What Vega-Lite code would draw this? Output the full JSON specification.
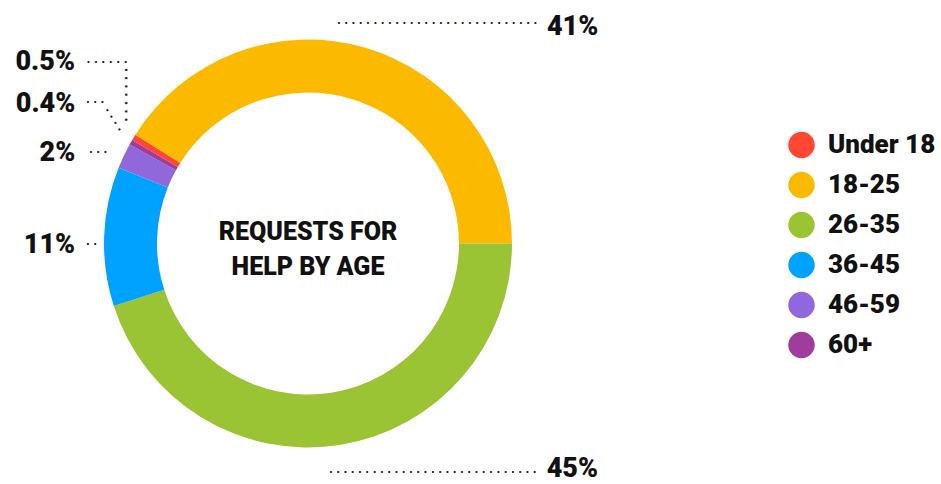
{
  "$schema": "https://vega.github.io/schema/vega-lite/v6.json",
  "autosize": {"type": "none"},
  "width": 616,
  "height": 481,
  "padding": {"left": 0, "top": 3, "right": 325, "bottom": 0},
  "background": "white",
  "config": {"view": {"stroke": null}},
  "data": {
    "values": [
      {"age": "Under 18", "value": 0.5, "label": "0.5%"},
      {"age": "18-25", "value": 41, "label": "41%"},
      {"age": "26-35", "value": 45, "label": "45%"},
      {"age": "36-45", "value": 11, "label": "11%"},
      {"age": "46-59", "value": 2, "label": "2%"},
      {"age": "60+", "value": 0.4, "label": "0.4%"}
    ]
  },
  "layer": [
    {
      "encoding": {
        "theta": {"field": "value", "type": "quantitative", "stack": true, "scale": {"range": [-1.00789, 5.2753]}},
        "order": {"field": "age", "type": "nominal", "sort": "ascending"}
      },
      "layer": [
        {
          "mark": {"type": "arc", "outerRadius": 204, "innerRadius": 151},
          "encoding": {
            "color": {
              "field": "age",
              "type": "nominal",
              "scale": {
                "domain": ["Under 18", "18-25", "26-35", "36-45", "46-59", "60+"],
                "range": ["#FF4733", "#FBB900", "#9BC434", "#00A2FF", "#9068DC", "#A03C9B"]
              },
              "legend": {
                "title": null,
                "orient": "none",
                "legendX": 788,
                "legendY": 128.5,
                "padding": 0,
                "symbolType": "circle",
                "symbolSize": 700,
                "symbolStrokeWidth": 0,
                "symbolOpacity": 1,
                "labelFont": "Roboto",
                "labelFontWeight": 900,
                "labelFontSize": 26,
                "labelColor": "#111",
                "labelOffset": 13,
                "rowPadding": 13
              }
            }
          }
        },
        {
          "mark": {"type": "text", "radius": 230, "font": "Roboto", "fontWeight": 900, "fontSize": 27, "color": "#111", "align": "left", "baseline": "alphabetic", "dx": 175, "dy": 12},
          "encoding": {"text": {"condition": {"test": "datum.age === '18-25'", "field": "label"}, "value": ""}}
        },
        {
          "mark": {"type": "text", "radius": 230, "font": "Roboto", "fontWeight": 900, "fontSize": 27, "color": "#111", "align": "left", "baseline": "alphabetic", "dx": 203, "dy": 6},
          "encoding": {"text": {"condition": {"test": "datum.age === '26-35'", "field": "label"}, "value": ""}}
        },
        {
          "mark": {"type": "text", "radius": 230, "font": "Roboto", "fontWeight": 900, "fontSize": 27, "color": "#111", "align": "right", "baseline": "alphabetic", "dx": -3, "dy": 17.4},
          "encoding": {"text": {"condition": {"test": "datum.age === '36-45'", "field": "label"}, "value": ""}}
        },
        {
          "mark": {"type": "text", "radius": 230, "font": "Roboto", "fontWeight": 900, "fontSize": 27, "color": "#111", "align": "right", "baseline": "alphabetic", "dx": -25, "dy": 16},
          "encoding": {"text": {"condition": {"test": "datum.age === '46-59'", "field": "label"}, "value": ""}}
        },
        {
          "mark": {"type": "text", "radius": 230, "font": "Roboto", "fontWeight": 900, "fontSize": 27, "color": "#111", "align": "right", "baseline": "alphabetic", "dx": -33, "dy": -17.4},
          "encoding": {"text": {"condition": {"test": "datum.age === '60+'", "field": "label"}, "value": ""}}
        },
        {
          "mark": {"type": "text", "radius": 230, "font": "Roboto", "fontWeight": 900, "fontSize": 27, "color": "#111", "align": "right", "baseline": "alphabetic", "dx": -36.6, "dy": -53.9},
          "encoding": {"text": {"condition": {"test": "datum.age === 'Under 18'", "field": "label"}, "value": ""}}
        },
        {
          "mark": {"type": "text", "radius": 230, "font": "DejaVu Sans", "fontWeight": "bold", "fontSize": 10, "color": "#222", "align": "left", "baseline": "alphabetic", "dx": -34.9, "dy": 1.8},
          "encoding": {"text": {"condition": {"test": "datum.age === '18-25'", "value": ". . . . . . . . . . . . . . . . . . . . . . . . . . . ."}, "value": ""}}
        },
        {
          "mark": {"type": "text", "radius": 230, "font": "DejaVu Sans", "fontWeight": "bold", "fontSize": 10, "color": "#222", "align": "left", "baseline": "alphabetic", "dx": -14.7, "dy": 2},
          "encoding": {"text": {"condition": {"test": "datum.age === '26-35'", "value": ". . . . . . . . . . . . . . . . . . . . . . . . . . . . ."}, "value": ""}}
        },
        {
          "mark": {"type": "text", "radius": 230, "font": "DejaVu Sans", "fontWeight": "bold", "fontSize": 10, "color": "#222", "align": "left", "baseline": "alphabetic", "dx": 7.9, "dy": 9.4},
          "encoding": {"text": {"condition": {"test": "datum.age === '36-45'", "value": ". ."}, "value": ""}}
        },
        {
          "mark": {"type": "text", "radius": 230, "font": "DejaVu Sans", "fontWeight": "bold", "fontSize": 10, "color": "#222", "align": "left", "baseline": "alphabetic", "dx": -11.2, "dy": 7.8},
          "encoding": {"text": {"condition": {"test": "datum.age === '46-59'", "value": ". . ."}, "value": ""}}
        },
        {
          "mark": {"type": "text", "radius": 230, "font": "DejaVu Sans", "fontWeight": "bold", "fontSize": 10, "color": "#222", "align": "left", "baseline": "alphabetic", "dx": -22.3, "dy": -26.1},
          "encoding": {"text": {"condition": {"test": "datum.age === '60+'", "value": ". . ."}, "value": ""}}
        },
        {
          "mark": {"type": "text", "radius": 230, "font": "DejaVu Sans", "fontWeight": "bold", "fontSize": 10.4, "color": "#222", "align": "left", "baseline": "alphabetic", "angle": 58, "dx": -18.9, "dy": -8.4},
          "encoding": {"text": {"condition": {"test": "datum.age === '60+'", "value": ". . . ."}, "value": ""}}
        },
        {
          "mark": {"type": "text", "radius": 230, "font": "DejaVu Sans", "fontWeight": "bold", "fontSize": 10.3, "color": "#222", "align": "left", "baseline": "alphabetic", "dx": -25.2, "dy": -61.2},
          "encoding": {"text": {"condition": {"test": "datum.age === 'Under 18'", "value": ". . . . . ."}, "value": ""}}
        },
        {
          "mark": {"type": "text", "radius": 230, "font": "DejaVu Sans", "fontWeight": "bold", "fontSize": 11.4, "color": "#222", "align": "left", "baseline": "alphabetic", "angle": 90, "dx": -56.1, "dy": -13},
          "encoding": {"text": {"condition": {"test": "datum.age === 'Under 18'", "value": ". . . . . . ."}, "value": ""}}
        }
      ]
    },
    {
      "data": {"values": [{"title": "REQUESTS FOR\nHELP BY AGE"}]},
      "mark": {"type": "text", "font": "Roboto", "fontWeight": 900, "fontSize": 25, "lineBreak": "\n", "lineHeight": 35, "baseline": "middle", "align": "center", "color": "#111", "dy": -11.5},
      "encoding": {"text": {"field": "title"}}
    }
  ]
}
